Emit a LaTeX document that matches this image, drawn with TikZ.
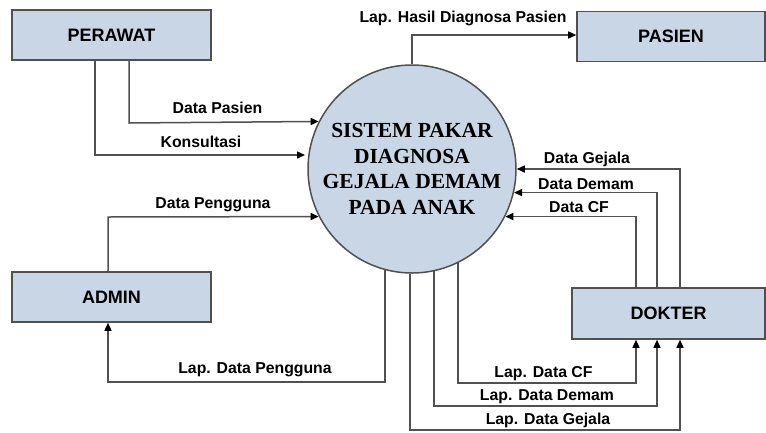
\documentclass[tikz,border=0pt]{standalone}
\usepackage{fontspec}
\setmainfont{Liberation Sans}
\newfontfamily\serifbold{Liberation Serif}
\usetikzlibrary{arrows.meta}
\definecolor{boxfill}{HTML}{C9D6E5}
\definecolor{linegray}{HTML}{505050}
\begin{document}
\begin{tikzpicture}[x=1pt,y=-1pt,
 entity/.style={draw=linegray, line width=1.6pt, fill=boxfill, minimum height=50pt, inner sep=0pt, font=\fontsize{18}{21}\selectfont\bfseries},
 flow/.style={draw=linegray, line width=1.5pt, -{Triangle[length=8pt,width=7pt,color=black]}},
 lbl/.style={anchor=base, inner sep=0pt, font=\fontsize{15.8}{18}\selectfont\bfseries}]
\useasboundingbox[fill=white] (0,0) rectangle (766,432);

\node[entity, minimum width=199pt] (perawat) at (111.5,35) {PERAWAT};
\node[entity, minimum width=188pt] (pasien) at (671,36.5) {PASIEN};
\node[entity, minimum width=199pt] (admin) at (111.5,297) {ADMIN};
\node[entity, minimum width=193pt, minimum height=51pt] (dokter) at (668.5,313.5) {DOKTER};

\node[circle, draw=linegray, line width=1.5pt, fill=boxfill, minimum size=208pt, inner sep=0pt, align=center,
      font=\serifbold\fontsize{21.5}{25.7}\selectfont\bfseries] (sys) at (412,169)
      {SISTEM PAKAR\\DIAGNOSA\\GEJALA DEMAM\\PADA ANAK};

% coordinates
\coordinate (dps) at (129,123);
\coordinate (kon) at (95,155);
\coordinate (konE) at (305,155);
\coordinate (dpA) at (108,217);
\coordinate (pgA) at (108,382);
\coordinate (lh) at (412,35);
\coordinate (xg) at (680,0);
\coordinate (xd) at (657,0);
\coordinate (xc) at (636,0);
\coordinate (lcf) at (636,383);
\coordinate (lde) at (657,406);
\coordinate (lgj) at (680,430);

% flows
\draw[flow] (dps |- perawat.south) -- (dps) -- (sys.153.75);
\draw[flow] (kon |- perawat.south) -- (kon) -- (konE);
\draw[flow] (dpA |- admin.north) -- (dpA) -- (sys.207.5);
\draw[flow] (sys.-105) |- (pgA) -- (pgA |- admin.south);
\draw[flow] (sys.north) -- (lh) -- (lh -| pasien.west);
\draw[flow] (dokter.north -| xg) |- (sys.-0.55);
\draw[flow] (dokter.north -| xd) |- (sys.-13.9);
\draw[flow] (dokter.north -| xc) |- (sys.-27.5);
\draw[flow] (sys.-64.4) |- (lcf) -- (lcf |- dokter.south);
\draw[flow] (sys.-78.9) |- (lde) -- (lde |- dokter.south);
\draw[flow] (sys.-91.65) |- (lgj) -- (lgj |- dokter.south);

% labels
\node[lbl] (t1) at (463,22) {Lap. Hasil Diagnosa Pasien};
\node[lbl] (t2) at (217.5,113) {Data Pasien};
\node[lbl] (t3) at (201,147) {Konsultasi};
\node[lbl] (t4) at (213,208) {Data Pengguna};
\node[lbl] (t5) at (255,373) {Lap. Data Pengguna};
\node[lbl] (t6) at (587,163) {Data Gejala};
\node[lbl] (t7) at (586,189) {Data Demam};
\node[lbl] (t8) at (579,212) {Data CF};
\node[lbl] (t9) at (543.5,377) {Lap. Data CF};
\node[lbl] (t10) at (547,400) {Lap. Data Demam};
\node[lbl] (t11) at (548,424) {Lap. Data Gejala};
\end{tikzpicture}
\end{document}
